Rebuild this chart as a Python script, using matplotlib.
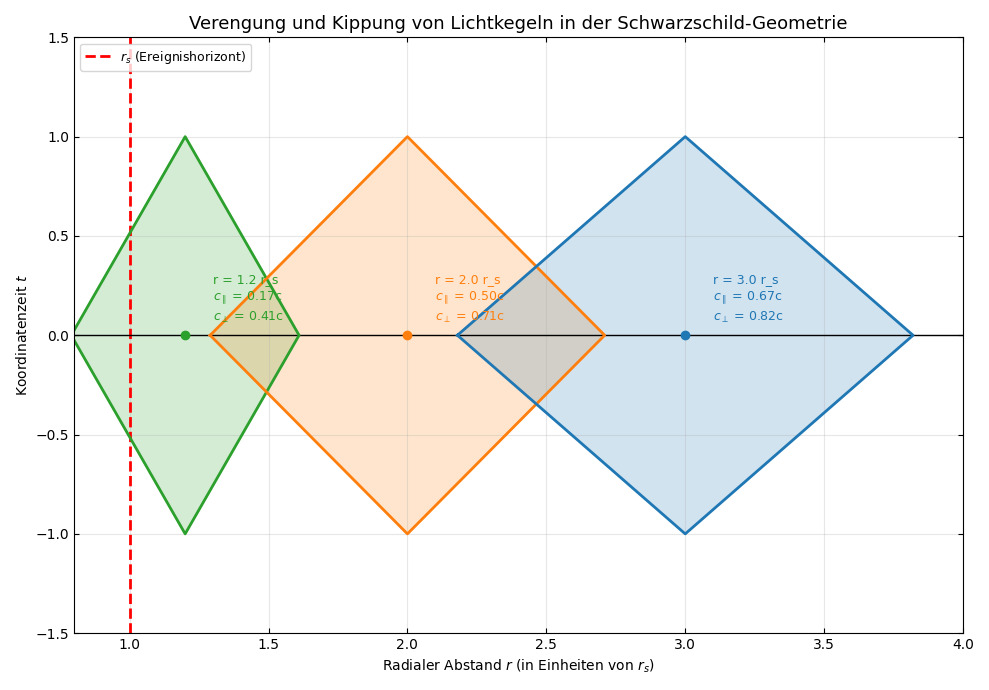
import matplotlib
matplotlib.use("Agg")
import matplotlib.pyplot as plt

radii = [1.2, 2.0, 3.0]
c_par = [0.17, 0.50, 0.67]
c_perp = [0.41, 0.71, 0.82]
colors = ["#2ca02c", "#ff7f0e", "#1f77b4"]
r_s = 1.0

fig, ax = plt.subplots(figsize=(9.89, 6.90), dpi=100)
ax.axvline(r_s, color="red", ls="--", lw=2, label=r"$r_s$ (Ereignishorizont)")
ax.axhline(0, color="black", lw=1)
for r, cp, cq, col in zip(radii, c_par, c_perp, colors):
    xs = [r - cq, r, r + cq, r, r - cq]
    ys = [0, 1, 0, -1, 0]
    ax.fill(xs, ys, color=col, alpha=0.2)
    ax.plot(xs, ys, color=col, lw=2)
    ax.plot(r, 0, "o", color=col, ms=6)
    ax.text(r + 0.1, 0.28, f"r = {r:.1f} r_s", color=col, fontsize=9, va="center")
    ax.text(r + 0.1, 0.19, rf"$c_\parallel$ = {cp:.2f}c", color=col, fontsize=9, va="center")
    ax.text(r + 0.1, 0.09, rf"$c_\perp$ = {cq:.2f}c", color=col, fontsize=9, va="center")

ax.set_xlim(0.8, 4.0)
ax.set_ylim(-1.5, 1.5)
ax.grid(True, alpha=0.3)
ax.tick_params(direction="in", top=True, right=True)
ax.set_xlabel(r"Radialer Abstand $r$ (in Einheiten von $r_s$)")
ax.set_ylabel(r"Koordinatenzeit $t$")
ax.set_title("Verengung und Kippung von Lichtkegeln in der Schwarzschild-Geometrie", fontsize=13)
ax.legend(loc="upper left", fontsize=9)
fig.tight_layout()
fig.savefig("out.png", dpi=100)
